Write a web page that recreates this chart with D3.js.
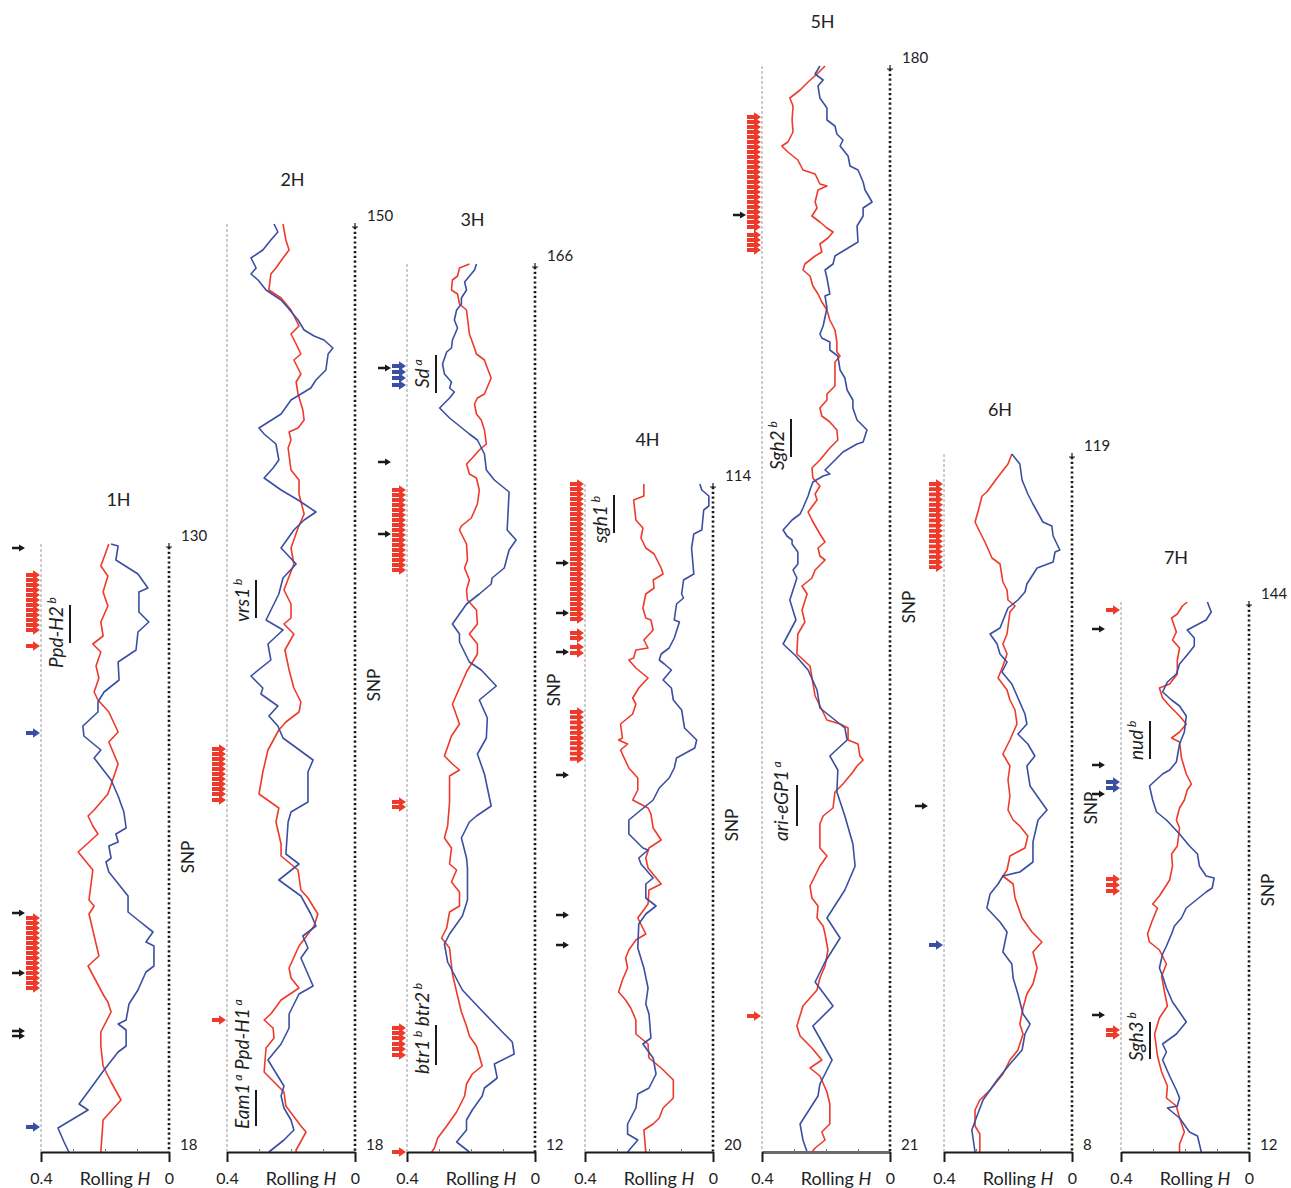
<!DOCTYPE html>
<html><head><meta charset="utf-8">
<script src="https://cdn.jsdelivr.net/npm/d3@7"></script>
<style>body{margin:0;background:#fff}</style>
</head><body>
<svg id="chart" width="1291" height="1188"></svg>
<script>
// ---------------- DATA ----------------
const chromosomes = ["1H","2H","3H","4H","5H","6H","7H"];
const cmTop = [130,150,166,114,180,119,144];
const cmBottom = [18,18,12,20,21,8,12];
const snpCount = [304,464,444,334,543,349,275];   // SNP windows (rank from distal end)
const hTickLabels = ["0.4","0"];

// rolling H series: [SNP rank, H]
const red1H = [[0,.188],[4,.197],[11,.213],[16,.191],[24,.206],[31,.191],[39,.213],[46,.206],[50,.238],[54,.213],[61,.228],[67,.219],[74,.234],[78,.222],[84,.188],[94,.159],[99,.188],[110,.159],[125,.191],[133,.234],[136,.253],[141,.238],[145,.222],[154,.284],[163,.238],[178,.25],[181,.234],[185,.25],[206,.219],[211,.253],[226,.203],[229,.191],[234,.181],[244,.213],[251,.213],[261,.206],[269,.181],[278,.15],[288,.206],[304,.213]];
const blue1H = [[0,.181],[1,.159],[8,.166],[15,.097],[22,.066],[24,.094],[34,.094],[39,.063],[44,.097],[53,.103],[59,.159],[68,.156],[74,.203],[79,.222],[84,.222],[91,.269],[96,.266],[103,.213],[107,.234],[118,.181],[126,.159],[134,.141],[142,.134],[145,.166],[149,.159],[151,.188],[157,.181],[159,.197],[164,.188],[176,.128],[184,.128],[188,.097],[194,.05],[199,.072],[201,.047],[211,.047],[214,.072],[223,.097],[230,.125],[238,.134],[240,.159],[243,.134],[251,.134],[254,.159],[263,.203],[272,.244],[280,.281],[283,.253],[292,.347],[299,.328],[304,.313]];
const red2H = [[0,.225],[8,.216],[13,.206],[17,.225],[22,.247],[25,.263],[33,.269],[37,.231],[43,.2],[51,.175],[55,.2],[60,.184],[65,.169],[68,.191],[75,.169],[79,.184],[85,.178],[93,.163],[98,.159],[102,.178],[104,.206],[108,.2],[112,.209],[123,.2],[128,.175],[135,.175],[145,.159],[152,.178],[162,.2],[170,.191],[183,.222],[190,.2],[197,.2],[200,.222],[205,.191],[213,.219],[223,.206],[232,.191],[239,.169],[244,.175],[249,.216],[253,.238],[263,.272],[274,.288],[285,.3],[292,.238],[299,.247],[310,.231],[316,.231],[323,.178],[333,.169],[337,.147],[345,.116],[351,.128],[361,.175],[372,.206],[377,.2],[382,.175],[388,.231],[395,.263],[398,.284],[402,.256],[407,.253],[412,.278],[424,.284],[434,.222],[441,.216],[451,.169],[454,.153],[463,.184],[464,.184]];
const blue2H = [[0,.253],[4,.241],[8,.263],[13,.288],[17,.325],[22,.309],[25,.325],[28,.303],[33,.278],[38,.231],[42,.209],[48,.178],[53,.159],[56,.128],[58,.097],[62,.069],[65,.084],[73,.091],[78,.122],[82,.138],[88,.2],[95,.231],[102,.3],[105,.284],[110,.247],[118,.238],[122,.256],[127,.284],[133,.231],[138,.178],[144,.122],[148,.159],[153,.191],[162,.231],[170,.184],[177,.225],[185,.238],[198,.278],[203,.225],[210,.272],[218,.263],[226,.325],[232,.288],[235,.294],[241,.241],[246,.269],[251,.241],[257,.225],[268,.131],[274,.147],[289,.147],[294,.2],[299,.209],[315,.216],[320,.175],[328,.238],[336,.169],[345,.138],[351,.122],[356,.163],[362,.147],[367,.169],[381,.131],[385,.175],[395,.206],[402,.206],[410,.231],[418,.272],[431,.222],[436,.231],[442,.222],[448,.2],[453,.191],[458,.222],[464,.269]];
const red3H = [[0,.205],[2,.236],[6,.242],[8,.258],[13,.261],[15,.242],[20,.236],[23,.214],[35,.205],[42,.189],[45,.183],[48,.158],[52,.149],[57,.137],[65,.158],[67,.18],[70,.189],[75,.183],[78,.168],[83,.158],[90,.152],[93,.174],[97,.196],[100,.214],[105,.205],[107,.183],[113,.174],[120,.18],[127,.199],[131,.23],[133,.236],[140,.214],[148,.211],[152,.22],[158,.205],[163,.214],[168,.211],[173,.183],[180,.18],[185,.205],[190,.18],[195,.18],[204,.214],[220,.258],[230,.236],[236,.261],[246,.283],[250,.258],[253,.236],[256,.267],[269,.267],[281,.273],[287,.283],[292,.261],[300,.267],[303,.245],[309,.261],[314,.236],[321,.236],[324,.267],[332,.276],[337,.292],[342,.267],[355,.258],[366,.242],[374,.23],[381,.214],[386,.205],[391,.183],[401,.165],[405,.196],[410,.214],[416,.22],[424,.245],[431,.276],[437,.304],[442,.314],[444,.323]];
const blue3H = [[0,.183],[3,.189],[9,.22],[13,.214],[17,.23],[20,.23],[23,.245],[28,.252],[32,.242],[38,.258],[42,.261],[44,.276],[50,.289],[55,.283],[59,.261],[62,.267],[64,.252],[67,.267],[72,.298],[77,.267],[81,.236],[85,.205],[88,.18],[95,.158],[103,.152],[108,.127],[114,.081],[133,.087],[138,.059],[143,.081],[152,.096],[157,.134],[160,.137],[165,.174],[170,.214],[175,.236],[180,.258],[185,.236],[189,.236],[199,.205],[203,.168],[211,.121],[218,.174],[227,.149],[237,.152],[245,.18],[255,.158],[271,.137],[276,.183],[279,.205],[287,.23],[297,.214],[302,.211],[318,.211],[326,.227],[335,.267],[340,.283],[349,.273],[363,.227],[372,.174],[384,.102],[389,.071],[395,.065],[400,.127],[407,.118],[412,.158],[416,.165],[423,.196],[428,.214],[433,.214],[439,.245],[444,.205]];
const red4H = [[0,.216],[6,.216],[8,.248],[18,.241],[22,.219],[27,.225],[32,.21],[35,.184],[42,.162],[45,.156],[48,.187],[52,.184],[55,.21],[62,.219],[67,.21],[68,.194],[73,.187],[78,.216],[82,.203],[83,.241],[87,.248],[88,.263],[92,.241],[97,.203],[102,.232],[107,.251],[110,.241],[115,.251],[120,.289],[127,.283],[128,.295],[130,.267],[133,.289],[142,.263],[147,.235],[153,.235],[158,.251],[162,.203],[165,.194],[172,.187],[178,.162],[182,.2],[187,.21],[192,.203],[200,.162],[203,.2],[210,.203],[217,.235],[225,.21],[228,.241],[233,.263],[237,.273],[242,.267],[248,.283],[254,.295],[258,.273],[262,.257],[268,.241],[275,.241],[280,.203],[287,.2],[292,.162],[298,.124],[307,.124],[312,.156],[317,.168],[320,.187],[323,.216],[334,.21]];
const blue4H = [[0,.041],[3,.035],[6,.013],[11,.013],[13,.029],[23,.035],[25,.06],[32,.067],[45,.06],[48,.092],[55,.098],[57,.092],[60,.114],[68,.121],[69,.105],[77,.121],[82,.137],[85,.162],[88,.168],[90,.152],[93,.13],[98,.156],[102,.13],[108,.124],[113,.098],[122,.089],[128,.051],[132,.057],[137,.114],[142,.121],[147,.137],[152,.168],[158,.187],[161,.21],[168,.263],[175,.263],[182,.219],[183,.203],[187,.232],[190,.225],[197,.187],[200,.21],[207,.21],[211,.178],[215,.21],[220,.232],[232,.235],[242,.216],[252,.203],[260,.21],[265,.2],[277,.194],[280,.219],[287,.187],[295,.178],[302,.2],[305,.235],[312,.241],[320,.267],[325,.267],[328,.235],[334,.267]];
const red5H = [[0,.203],[4,.228],[8,.256],[12,.281],[16,.313],[20,.303],[27,.306],[33,.303],[38,.319],[40,.338],[43,.319],[47,.288],[52,.272],[54,.234],[59,.219],[60,.197],[62,.225],[68,.234],[71,.228],[75,.244],[78,.219],[81,.197],[83,.178],[86,.194],[89,.219],[93,.213],[95,.234],[99,.266],[102,.272],[105,.25],[110,.241],[114,.225],[118,.213],[122,.197],[127,.188],[132,.172],[138,.166],[143,.166],[145,.156],[148,.172],[160,.172],[164,.197],[167,.197],[171,.219],[175,.213],[178,.188],[182,.166],[187,.163],[191,.188],[197,.219],[201,.244],[206,.241],[210,.219],[214,.234],[217,.228],[223,.256],[227,.244],[234,.219],[238,.203],[241,.225],[245,.219],[247,.203],[252,.234],[256,.244],[260,.275],[264,.259],[272,.275],[278,.266],[284,.288],[294,.291],[300,.25],[315,.234],[327,.197],[329,.156],[331,.131],[337,.131],[339,.1],[345,.094],[347,.084],[350,.103],[353,.116],[359,.147],[363,.172],[371,.178],[375,.209],[379,.219],[391,.219],[395,.197],[400,.219],[410,.25],[416,.244],[420,.225],[426,.228],[430,.209],[434,.203],[442,.194],[450,.203],[456,.219],[462,.228],[466,.25],[470,.272],[480,.291],[485,.281],[491,.244],[497,.213],[501,.25],[505,.219],[513,.197],[519,.188],[529,.188],[533,.213],[537,.203],[541,.234],[543,.244]];
const blue5H = [[0,.219],[4,.234],[7,.209],[10,.225],[16,.219],[21,.197],[27,.197],[30,.172],[34,.166],[37,.147],[40,.156],[45,.131],[50,.125],[52,.1],[58,.084],[62,.078],[68,.056],[71,.084],[75,.084],[80,.103],[88,.1],[95,.172],[99,.178],[102,.203],[106,.197],[114,.188],[115,.203],[121,.197],[130,.209],[134,.219],[136,.213],[138,.188],[142,.188],[145,.163],[152,.156],[156,.141],[162,.134],[167,.116],[171,.116],[177,.103],[180,.084],[182,.072],[188,.084],[189,.103],[193,.147],[198,.178],[202,.203],[204,.188],[205,.209],[208,.241],[212,.25],[215,.256],[221,.272],[224,.281],[227,.306],[232,.334],[235,.322],[237,.306],[239,.306],[243,.288],[249,.288],[252,.303],[256,.291],[267,.313],[277,.294],[289,.334],[295,.294],[302,.256],[312,.228],[321,.219],[331,.141],[337,.134],[345,.188],[352,.163],[363,.166],[375,.141],[389,.116],[400,.109],[412,.141],[426,.197],[436,.156],[448,.203],[458,.234],[470,.178],[480,.241],[497,.181],[509,.219],[515,.225],[529,.281],[537,.272],[543,.259]];
const red6H = [[0,.188],[5,.2],[12,.234],[19,.266],[21,.281],[29,.294],[34,.303],[39,.288],[44,.272],[52,.25],[55,.225],[64,.216],[68,.203],[73,.2],[76,.178],[79,.194],[90,.203],[95,.216],[100,.203],[106,.216],[112,.231],[118,.203],[123,.194],[128,.178],[135,.172],[143,.194],[150,.216],[156,.194],[163,.2],[171,.194],[178,.2],[183,.184],[186,.163],[191,.138],[197,.147],[201,.194],[208,.203],[211,.216],[215,.184],[222,.178],[232,.156],[239,.125],[244,.094],[249,.122],[257,.109],[265,.122],[270,.141],[277,.153],[285,.163],[290,.153],[298,.169],[303,.194],[310,.216],[318,.256],[323,.288],[328,.303],[336,.303],[340,.288],[349,.288]];
const blue6H = [[0,.188],[5,.163],[13,.156],[20,.138],[25,.122],[34,.091],[36,.063],[41,.059],[48,.038],[49,.053],[54,.059],[57,.109],[65,.141],[69,.147],[73,.169],[77,.2],[87,.225],[90,.256],[95,.234],[100,.225],[104,.203],[109,.219],[115,.188],[130,.147],[135,.141],[140,.169],[145,.138],[151,.116],[156,.141],[166,.131],[171,.109],[178,.078],[183,.106],[194,.122],[204,.122],[209,.163],[211,.216],[215,.231],[220,.256],[227,.266],[234,.225],[239,.203],[249,.216],[255,.188],[262,.184],[270,.169],[280,.153],[285,.131],[290,.147],[298,.156],[305,.194],[313,.234],[323,.278],[331,.297],[338,.313],[349,.303]];
const red7H = [[0,.193],[2,.208],[6,.224],[8,.242],[15,.227],[19,.239],[23,.217],[29,.224],[36,.224],[41,.248],[43,.28],[48,.27],[52,.248],[57,.217],[61,.196],[65,.217],[68,.242],[70,.217],[78,.211],[86,.196],[91,.18],[94,.193],[99,.202],[103,.217],[109,.227],[113,.217],[122,.224],[126,.242],[132,.239],[139,.248],[143,.264],[147,.28],[151,.301],[153,.286],[160,.304],[166,.317],[170,.311],[174,.28],[181,.258],[187,.273],[195,.264],[202,.255],[208,.28],[216,.295],[227,.286],[235,.273],[242,.255],[248,.258],[252,.227],[258,.217],[265,.202],[271,.217],[275,.217]];
const blue7H = [[0,.13],[5,.118],[9,.134],[14,.193],[18,.171],[22,.171],[27,.196],[31,.217],[36,.227],[40,.255],[45,.27],[49,.242],[52,.217],[57,.196],[65,.202],[71,.217],[80,.227],[84,.248],[86,.27],[92,.311],[99,.301],[105,.289],[109,.258],[116,.217],[122,.186],[126,.161],[132,.155],[137,.134],[138,.109],[143,.115],[145,.134],[149,.165],[153,.196],[158,.211],[162,.233],[166,.242],[172,.258],[176,.27],[183,.28],[187,.27],[193,.258],[200,.239],[205,.217],[210,.196],[216,.227],[221,.27],[225,.258],[229,.27],[237,.248],[244,.227],[248,.217],[252,.224],[253,.255],[258,.217],[265,.186],[267,.161],[275,.149]];

// selection-signal arrows (SNP rank)
const redArrows1H = [15.5,18,20.5,23,25.5,28,30.5,33,35.5,38,40.5,43,51,187,189.5,192,194.5,197,199.5,202,204.5,207,209.5,212,214.5,217,219.5,222];
const redArrows2H = [262.5,265,267.5,270,272.5,275,277.5,280,282.5,285,288,398];
const redArrows3H = [113,115.5,118,120.5,123,125.5,128,130.5,133,135.5,138,140.5,143,145.5,148,150.5,153,269,271.5,382,384.5,387,390,392.5,395.5,444];
const redArrows4H = [0,2.5,5,7.5,10,12.5,15,17.5,20,22.5,25,27.5,30,32.5,35,37.5,40,42.5,45,47.5,50,52.5,55,57.5,60,62.5,65,67.5,74.5,77,81.5,84.5,114,116.6,119.2,121.8,124.4,127,129.6,132.2,134.8,137.4];
const redArrows5H = [25.5,28,30.5,33,35.5,38,40.5,43,45.5,48,50.5,53,55.5,58,60.5,63,65.5,68,70.5,73,75.5,78,80.5,84.5,87,89.5,92,475];
const redArrows6H = [15,17.6,20.2,22.8,25.4,28,30.6,33.2,35.8,38.4,41,43.6,46.2,48.8,51.4,54,56.6];
const redArrows7H = [4,138.5,141.5,144.5,214,216.5];
const blueArrows1H = [94.5,291.5];
const blueArrows2H = [];
const blueArrows3H = [51,54,57,60.5];
const blueArrows4H = [];
const blueArrows5H = [];
const blueArrows6H = [245.5];
const blueArrows7H = [90,93];
const blackArrows1H = [2,184.5,214.5,243.5,246];
const blackArrows2H = [];
const blackArrows3H = [52,99,135];
const blackArrows4H = [39.5,64.5,84,145.5,215.5,230.5];
const blackArrows5H = [74.5];
const blackArrows6H = [176];
const blackArrows7H = [13.5,81.5,96,206.5];

// gene annotations: parts [name, superscript], label start and bar extent (SNP rank)
const geneLabels = [
  {chr:"1H", parts:[["Ppd-H2","b"]], textStart:62, barFrom:30.5, barTo:49.5},
  {chr:"2H", parts:[["vrs1","b"]], textStart:199, barFrom:178, barTo:197},
  {chr:"2H", parts:[["Eam1","a"],["Ppd-H1","a"]], textStart:452.5, barFrom:433, barTo:451},
  {chr:"3H", parts:[["Sd","a"]], textStart:62, barFrom:45.5, barTo:64.5},
  {chr:"3H", parts:[["btr1","b"],["btr2","b"]], textStart:405, barFrom:380.5, barTo:400.5},
  {chr:"4H", parts:[["sgh1","b"]], textStart:29.5, barFrom:5.5, barTo:24.5},
  {chr:"5H", parts:[["Sgh2","b"]], textStart:202, barFrom:176.5, barTo:195.5},
  {chr:"5H", parts:[["ari-eGP1","a"]], textStart:387.5, barFrom:359.5, barTo:380},
  {chr:"7H", parts:[["nud","b"]], textStart:79, barFrom:59.5, barTo:78.5},
  {chr:"7H", parts:[["Sgh3","b"]], textStart:229.5, barFrom:210, barTo:228.5}
];

const redSeries = [red1H,red2H,red3H,red4H,red5H,red6H,red7H];
const blueSeries = [blue1H,blue2H,blue3H,blue4H,blue5H,blue6H,blue7H];
const redArrows = [redArrows1H,redArrows2H,redArrows3H,redArrows4H,redArrows5H,redArrows6H,redArrows7H];
const blueArrows = [blueArrows1H,blueArrows2H,blueArrows3H,blueArrows4H,blueArrows5H,blueArrows6H,blueArrows7H];
const blackArrows = [blackArrows1H,blackArrows2H,blackArrows3H,blackArrows4H,blackArrows5H,blackArrows6H,blackArrows7H];

// ---------------- LAYOUT / STYLE ----------------
const layout = {
  left:[41,227,407,585,762,944,1121], width:128, axisY:1152, pxPerSnp:2,
  titleDx:[77.5,65.5,65.5,62.5,60.5,56,55],
  snpLabelY:[857,685,690,825,607,808,890]
};
const labelOffsets = {"ari-eGP1":[26,35]};
const RED = "#ee3a2a", BLUE = "#3a4fa2", BLACK = "#1a1a1a";
const FONT = "Lato, 'Open Sans', sans-serif";

const svg = d3.select("#chart");

function arrow(g, tipX, yy, color, small){
  const hl = small?6:7, hh = small?3.6:4.8, sl = small?13:14, st = small?1.3:1.9;
  g.append("path")
    .attr("d",`M${tipX},${yy}L${tipX-hl},${yy-hh}L${tipX-hl},${yy-st}L${tipX-sl},${yy-st}L${tipX-sl},${yy+st}L${tipX-hl},${yy+st}L${tipX-hl},${yy+hh}Z`)
    .attr("fill",color);
}

chromosomes.forEach((chr,i)=>{
  const L = layout.left[i], R = L + layout.width, n = snpCount[i];
  const x = d3.scaleLinear().domain([0.4,0]).range([L,R]);
  const y = d3.scaleLinear().domain([0,n]).range([layout.axisY - n*layout.pxPerSnp, layout.axisY]);
  const top = y(0);
  const g = svg.append("g");

  // dashed reference line at H = 0.4
  g.append("line").attr("x1",x(0.4)).attr("x2",x(0.4)).attr("y1",top).attr("y2",layout.axisY)
    .attr("stroke","#9a9a9a").attr("stroke-width",1).attr("stroke-dasharray","3,2");
  // dotted SNP axis at H = 0
  g.append("line").attr("x1",x(0)).attr("x2",x(0)).attr("y1",top+3).attr("y2",layout.axisY)
    .attr("stroke",BLACK).attr("stroke-width",2.6).attr("stroke-dasharray","2.2,2.6");
  g.append("path").attr("d",`M${x(0)-3},${top+3}H${x(0)+3}M${x(0)},${top+3}V${top-1}`)
    .attr("stroke",BLACK).attr("stroke-width",1.2).attr("fill","none");

  // lines
  const line = d3.line().x(d=>x(d[1])).y(d=>y(d[0]));
  g.append("path").datum(redSeries[i]).attr("d",line).attr("fill","none")
    .attr("stroke",RED).attr("stroke-width",1.6).attr("stroke-linejoin","round");
  g.append("path").datum(blueSeries[i]).attr("d",line).attr("fill","none")
    .attr("stroke",BLUE).attr("stroke-width",1.6).attr("stroke-linejoin","round");

  // bottom axis
  const ax = g.append("g").attr("transform",`translate(0,${layout.axisY})`)
    .call(d3.axisBottom(x).tickValues([0.4,0]).tickSize(10).tickSizeOuter(0).tickPadding(11)
      .tickFormat((d,k)=>hTickLabels[k]));
  ax.select(".domain").attr("stroke", chr==="5H" ? "#6a6a6a" : BLACK).attr("stroke-width", chr==="5H" ? 3 : 2);
  ax.selectAll(".tick line").attr("stroke",BLACK).attr("stroke-width",2);
  ax.selectAll(".tick text").attr("font-size",16).attr("font-family",FONT).attr("fill","#222");
  const mx = g.append("g").attr("transform",`translate(0,${layout.axisY})`)
    .call(d3.axisBottom(x).tickValues([0.3,0.2,0.1]).tickSize(-3).tickFormat(""));
  mx.select(".domain").remove();
  mx.selectAll(".tick line").attr("stroke","#777").attr("stroke-width",1);

  const rh = g.append("text").attr("x",(L+R)/2+10).attr("y",1185).attr("text-anchor","middle")
    .attr("font-size",18).attr("font-family",FONT).attr("fill","#222");
  rh.append("tspan").text("Rolling ");
  rh.append("tspan").attr("font-style","italic").text("H");

  // title and end labels
  g.append("text").attr("x",L+layout.titleDx[i]).attr("y",top-38).attr("text-anchor","middle")
    .attr("font-size",18).attr("font-family",FONT).attr("fill","#222").text(chr);
  g.append("text").attr("x",R+12).attr("y",top-3).attr("font-size",15).attr("font-family",FONT)
    .attr("fill","#222").text(cmTop[i]);
  g.append("text").attr("x",R+11).attr("y",1150).attr("font-size",15).attr("font-family",FONT)
    .attr("fill","#222").text(cmBottom[i]);
  g.append("text").attr("transform",`translate(${R+18},${layout.snpLabelY[i]}) rotate(-90)`)
    .attr("text-anchor","middle").attr("dominant-baseline","central")
    .attr("font-size",17).attr("font-family",FONT).attr("fill","#222").text("SNP");

  // arrows
  redArrows[i].forEach(p=>arrow(g, L-1, y(p), RED, false));
  blueArrows[i].forEach(p=>arrow(g, L-1, y(p), BLUE, false));
  blackArrows[i].forEach(p=>arrow(g, L-16, y(p), BLACK, true));

  // gene labels
  geneLabels.filter(d=>d.chr===chr).forEach(d=>{
    const off = labelOffsets[d.parts[0][0]] || [22,29];
    const t = g.append("text").attr("transform",`translate(${L+off[0]},${y(d.textStart)}) rotate(-90)`)
      .attr("font-family",FONT).attr("font-style","italic").attr("font-size",19).attr("fill","#222");
    d.parts.forEach((pt,k)=>{
      t.append("tspan").attr("dy", k===0?0:7).text((k===0?"":" ")+pt[0]);
      t.append("tspan").attr("font-size",12).attr("dy",-7).text(" "+pt[1]);
    });
    g.append("line").attr("x1",L+off[1]).attr("x2",L+off[1]).attr("y1",y(d.barFrom)).attr("y2",y(d.barTo))
      .attr("stroke",BLACK).attr("stroke-width",2);
  });
});
</script>
</body></html>
